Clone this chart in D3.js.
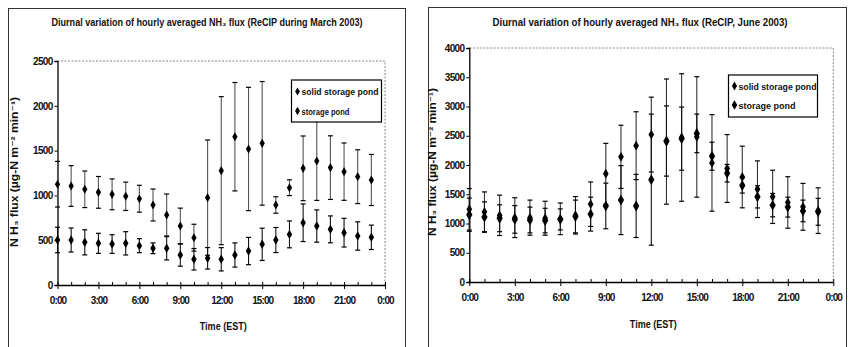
<!DOCTYPE html>
<html><head><meta charset="utf-8">
<script src="https://cdn.jsdelivr.net/npm/d3@7"></script>
<style>body{margin:0;background:#fff}svg{display:block}text{fill:#111}</style>
</head><body>
<svg id="c" width="849" height="347"></svg>
<script>
// ---------- data ----------
const hours = [0,1,2,3,4,5,6,7,8,9,10,11,12,13,14,15,16,17,18,19,20,21,22,23];
const xTickHours = [0,3,6,9,12,15,18,21,24];
const xTickLabels = ["0:00","3:00","6:00","9:00","12:00","15:00","18:00","21:00","0:00"];
const seriesNames = ["solid storage pond","storage pond"];

// March 2003
const marchYTicks = [0,500,1000,1500,2000,2500];
const marchSolidMean = [1125,1105,1068,1034,1012,990,963,893,781,658,528,975,1276,1655,1518,1581,893,1086,1302,1384,1310,1265,1209,1172];
const marchSolidSD   = [255,227,204,177,172,158,150,178,234,200,150,643,826,605,688,690,92,88,361,440,355,320,300,285];
const marchStorageMean = [502,502,476,465,457,465,439,410,410,335,287,298,287,335,379,454,502,565,695,658,621,584,547,532];
const marchStorageSD   = [142,134,140,112,104,130,78,60,130,125,120,120,130,135,152,180,140,150,210,180,150,160,158,136];

// June 2003
const juneYTicks = [0,500,1000,1500,2000,2500,3000,3500,4000];
const juneSolidMean = [1243,1200,1140,1100,1100,1090,1080,1140,1330,1850,2140,2330,2520,2400,2470,2480,2036,1940,1795,1586,1456,1360,1285,1220];
const juneSolidSD   = [355,340,345,340,300,290,270,320,380,520,540,580,640,1070,1090,1030,825,580,527,484,455,440,400,390];
const juneStorageMean = [1150,1110,1090,1070,1060,1050,1070,1120,1160,1300,1400,1300,1750,2410,2450,2540,2150,1860,1650,1456,1314,1280,1215,1200];
const juneStorageSD   = [284,260,230,236,220,210,180,280,290,390,590,540,1120,600,540,330,240,150,130,190,200,170,185,230];

const marchTitle = "Diurnal variation of hourly averaged NH\u2083 flux (ReCIP during March 2003)";
const juneTitle  = "Diurnal variation of hourly averaged NH\u2083 flux (ReCIP, June 2003)";
const yTitle = "N H\u2083 flux (\u00b5g-N  m\u207b\u00b2 min\u207b\u00b9)";
const xTitle = "Time (EST)";

// ---------- drawing ----------
const svg = d3.select("#c");
const FONT = "'Liberation Sans', Arial, 'DejaVu Sans', sans-serif";

function panel(cfg){
  const g = svg.append("g");
  g.append("rect").attr("x",cfg.frame[0]).attr("y",cfg.frame[1])
    .attr("width",cfg.frame[2]-cfg.frame[0]).attr("height",cfg.frame[3]-cfg.frame[1])
    .attr("fill","none").attr("stroke","#333").attr("stroke-width",1);

  const x = d3.scaleLinear().domain([0,24]).range([cfg.left,cfg.right]);
  const y = d3.scaleLinear().domain([0,cfg.yMax]).range([cfg.bottom,cfg.top]);

  g.append("path").attr("d",`M${cfg.left},${cfg.top}H${cfg.right}V${cfg.bottom}`)
    .attr("fill","none").attr("stroke","#888").attr("stroke-width",1).attr("stroke-dasharray","2,1.5");

  g.append("text").attr("x",cfg.titleX).attr("y",cfg.titleY)
    .attr("text-anchor","middle").attr("font-family",FONT).attr("font-weight","bold")
    .attr("font-size",10).attr("textLength",cfg.titleLen).attr("lengthAdjust","spacingAndGlyphs")
    .text(cfg.title);

  const ya = g.append("g").attr("transform",`translate(${cfg.left},0)`)
    .call(d3.axisLeft(y).tickValues(cfg.yTicks).tickSize(3).tickPadding(2).tickFormat(d=>d));
  ya.select(".domain").attr("stroke","#000").attr("stroke-width",1.3);
  ya.selectAll("text").attr("font-family",FONT).attr("font-weight","bold")
    .attr("font-size",10).attr("letter-spacing","-0.7px").attr("fill","#111");

  const xa = g.append("g").attr("transform",`translate(0,${cfg.bottom})`)
    .call(d3.axisBottom(x).tickValues(xTickHours).tickSizeInner(4).tickSizeOuter(0).tickPadding(8)
      .tickFormat((d,i)=>xTickLabels[i]));
  xa.select(".domain").attr("stroke","#000").attr("stroke-width",1.3);
  xa.selectAll("text").attr("font-family",FONT).attr("font-weight","bold")
    .attr("font-size",10).attr("letter-spacing","-0.9px").attr("fill","#111");
  const xm = g.append("g").attr("transform",`translate(0,${cfg.bottom})`)
    .call(d3.axisBottom(x).tickValues(hours.concat([24])).tickSize(-3).tickFormat(""));
  xm.select(".domain").remove();
  xm.selectAll("line").attr("stroke","#000");

  g.append("text").attr("x",(cfg.left+cfg.right)/2+2).attr("y",cfg.xTitleY)
    .attr("text-anchor","middle").attr("font-family",FONT).attr("font-weight","bold")
    .attr("font-size",10).attr("textLength",47).attr("lengthAdjust","spacingAndGlyphs")
    .text(xTitle);

  g.append("text").attr("transform",`translate(${cfg.yTitleX},${cfg.yTitleY}) rotate(-90)`)
    .attr("text-anchor","middle").attr("font-family",FONT).attr("font-weight","bold")
    .attr("font-size",10).attr("textLength",cfg.yTitleLen).attr("lengthAdjust","spacingAndGlyphs")
    .text(yTitle);

  cfg.series.forEach((s,si)=>{
    const sg = g.append("g");
    const data = hours.map((h,i)=>({h, m:s.mean[i], sd:s.sd[i]}));
    sg.selectAll("line.eb").data(data).join("line").attr("class","eb")
      .attr("x1",d=>x(d.h)).attr("x2",d=>x(d.h))
      .attr("y1",d=>y(Math.max(0,d.m-d.sd))).attr("y2",d=>y(d.m+d.sd))
      .attr("stroke",s.barColor).attr("stroke-width",1.1);
    ["top","bot"].forEach(k=>{
      sg.selectAll("line.c"+k).data(data).join("line").attr("class","c"+k)
        .attr("x1",d=>x(d.h)-2.5).attr("x2",d=>x(d.h)+2.5)
        .attr("y1",d=>y(k==="top"?d.m+d.sd:Math.max(0,d.m-d.sd)))
        .attr("y2",d=>y(k==="top"?d.m+d.sd:Math.max(0,d.m-d.sd)))
        .attr("stroke","#000").attr("stroke-width",1.2);
    });
    sg.selectAll("path.pt").data(data).join("path").attr("class","pt")
      .attr("transform",d=>`translate(${x(d.h)},${y(d.m)})`)
      .attr("d",d3.symbol().type(d3.symbolDiamond).size(s.size))
      .attr("fill","#000");
  });

  const L = cfg.legend;
  g.append("rect").attr("x",L.x).attr("y",L.y).attr("width",L.w).attr("height",L.h)
    .attr("fill","#fff").attr("stroke","#000").attr("stroke-width",1.2);
  cfg.series.forEach((s,si)=>{
    const ly = L.y + L.rows[si];
    g.append("path").attr("transform",`translate(${L.x+6},${ly})`)
      .attr("d",d3.symbol().type(d3.symbolDiamond).size(s.size*0.8)).attr("fill","#000");
    g.append("text").attr("x",L.x+10).attr("y",ly+3.5)
      .attr("font-family",FONT).attr("font-weight","bold").attr("font-size",9)
      .attr("textLength",L.lens[si]).attr("lengthAdjust","spacingAndGlyphs")
      .text(seriesNames[si]);
  });
}

panel({
  frame:[8.5,8.5,405.5,352],
  left:57.5, right:385, top:61, bottom:285, yMax:2500, yTicks:marchYTicks,
  title:marchTitle, titleX:207, titleY:26, titleLen:311,
  xTitleY:330, yTitleX:18, yTitleY:172, yTitleLen:150,
  series:[
    {mean:marchSolidMean, sd:marchSolidSD, size:24, barColor:"#555"},
    {mean:marchStorageMean, sd:marchStorageSD, size:26, barColor:"#111"}
  ],
  legend:{x:291.5,y:80,w:90,h:42,rows:[11.5,31],lens:[77,48]}
});

panel({
  frame:[428.5,7.5,846.5,352],
  left:469.3, right:833.3, top:48, bottom:282, yMax:4000, yTicks:juneYTicks,
  title:juneTitle, titleX:640, titleY:26, titleLen:295,
  xTitleY:328, yTitleX:436, yTitleY:162, yTitleLen:148,
  series:[
    {mean:juneSolidMean, sd:juneSolidSD, size:28, barColor:"#333"},
    {mean:juneStorageMean, sd:juneStorageSD, size:34, barColor:"#111"}
  ],
  legend:{x:728.5,y:75,w:89,h:42,rows:[11,30],lens:[78,57]}
});
</script>
</body></html>
